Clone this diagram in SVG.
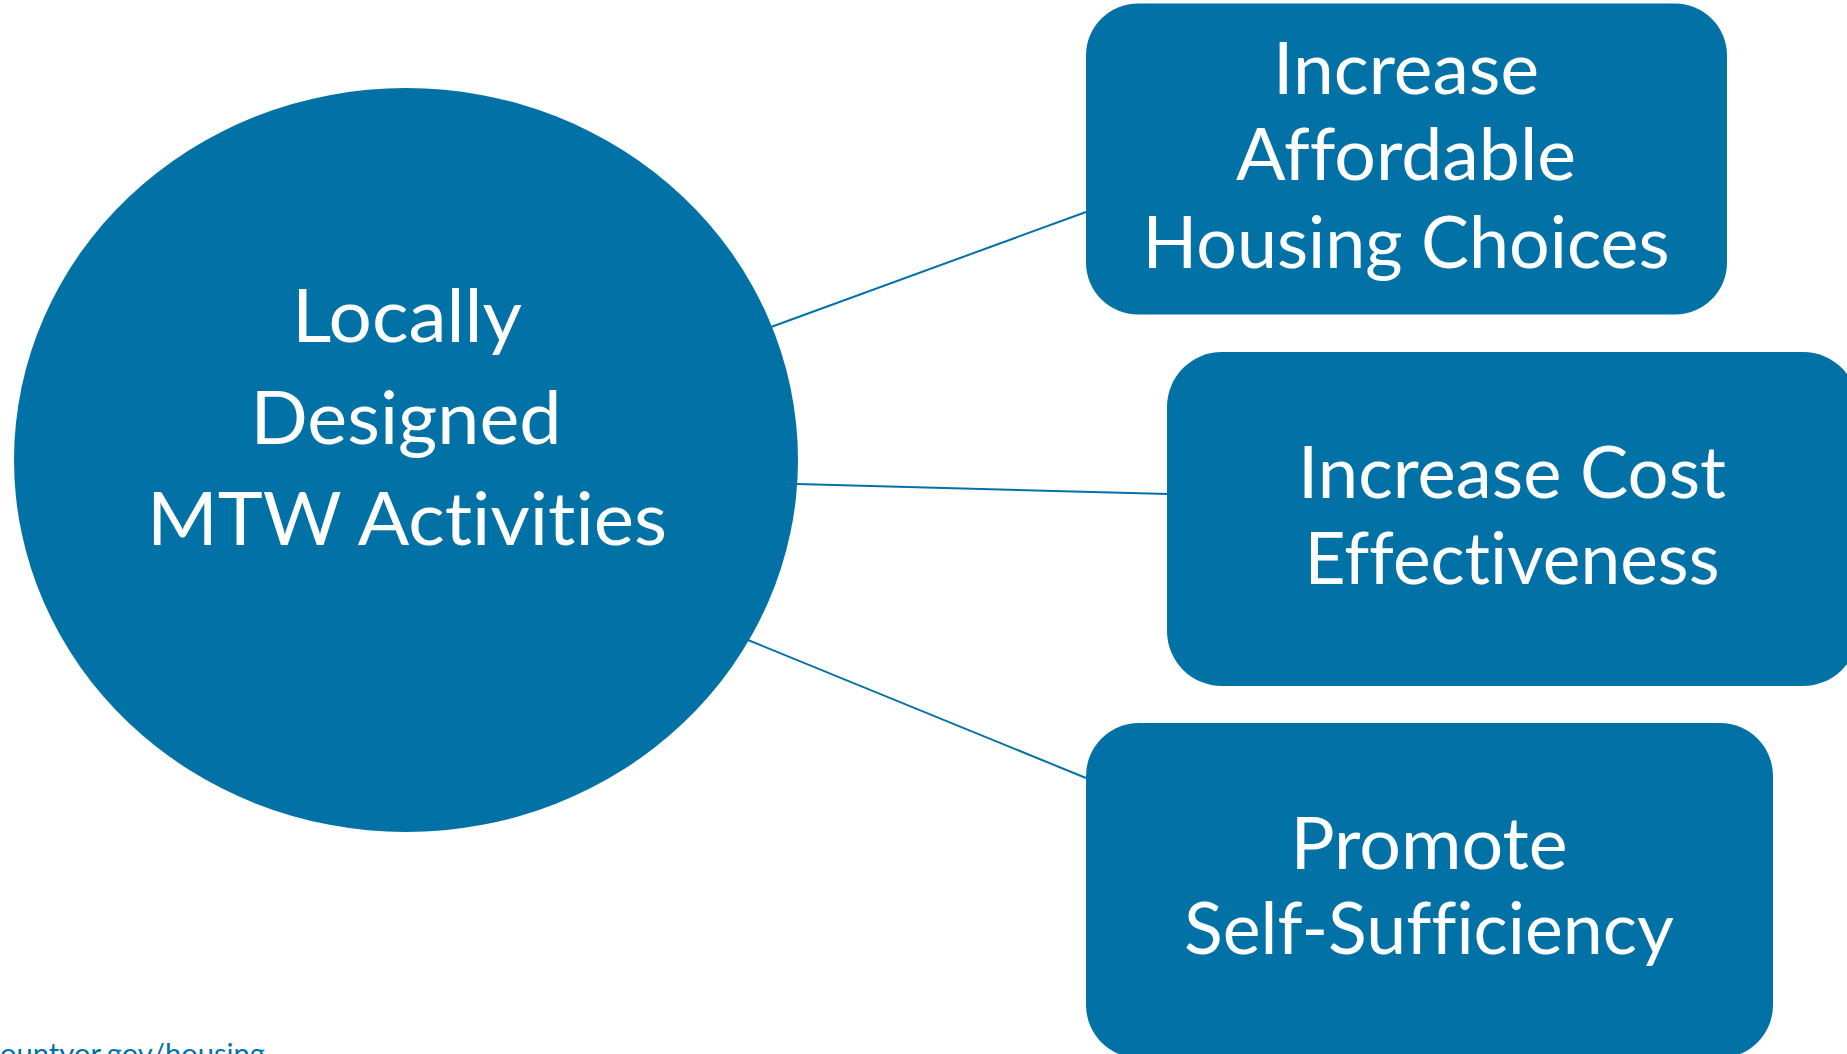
<svg xmlns="http://www.w3.org/2000/svg" width="1847" height="1054" viewBox="0 0 1847 1054">
<style>
.node{fill:#0272A6;}
.lbl{fill:#FFFFFF;font-family:Lato,"Open Sans","Liberation Sans",sans-serif;text-anchor:middle;font-variant-ligatures:none;font-feature-settings:"liga" 0,"clig" 0;}
.big{font-size:74px;}
.box{font-size:71px;}
.conn{stroke:#0272A6;stroke-width:2;fill:none;}
.url{fill:#0272A6;font-family:Lato,"Liberation Sans",sans-serif;font-size:28px;font-variant-ligatures:none;}
</style>
<rect width="1847" height="1054" fill="#FFFFFF"/>
<g id="connectors">
<line class="conn" x1="771" y1="327" x2="1086" y2="212"/>
<line class="conn" x1="797" y1="484" x2="1168" y2="494"/>
<line class="conn" x1="748" y1="640" x2="1086" y2="778"/>
</g>
<g id="node-center">
<ellipse class="node" cx="406" cy="460" rx="392" ry="372"/>
<text class="lbl big" x="407" y="342" textLength="230" lengthAdjust="spacingAndGlyphs">Locally</text>
<text class="lbl big" x="406" y="444" textLength="311" lengthAdjust="spacingAndGlyphs">Designed</text>
<text class="lbl big" x="407" y="545" textLength="520" lengthAdjust="spacingAndGlyphs">MTW Activities</text>
</g>
<g id="node-housing">
<rect class="node" x="1086" y="3.5" width="641" height="311" rx="52" ry="52"/>
<text class="lbl box" x="1406" y="94" textLength="266" lengthAdjust="spacingAndGlyphs">Increase</text>
<text class="lbl box" x="1406" y="180" textLength="340" lengthAdjust="spacingAndGlyphs">Affordable</text>
<text class="lbl box" x="1406" y="268" textLength="527" lengthAdjust="spacingAndGlyphs">Housing Choices</text>
</g>
<g id="node-cost">
<rect class="node" x="1167" y="352" width="691" height="334" rx="55" ry="55"/>
<text class="lbl box" x="1512" y="498" textLength="428" lengthAdjust="spacingAndGlyphs">Increase Cost</text>
<text class="lbl box" x="1512" y="584" textLength="415" lengthAdjust="spacingAndGlyphs">Effectiveness</text>
</g>
<g id="node-self">
<rect class="node" x="1086" y="723" width="687" height="335" rx="53" ry="53"/>
<text class="lbl box" x="1429" y="869" textLength="277" lengthAdjust="spacingAndGlyphs">Promote</text>
<text class="lbl box" x="1429" y="954" textLength="490" lengthAdjust="spacingAndGlyphs">Self-Sufficiency</text>
</g>
<text class="url" x="0" y="1064" textLength="265" lengthAdjust="spacingAndGlyphs">ountyor.gov/housing</text>
</svg>
